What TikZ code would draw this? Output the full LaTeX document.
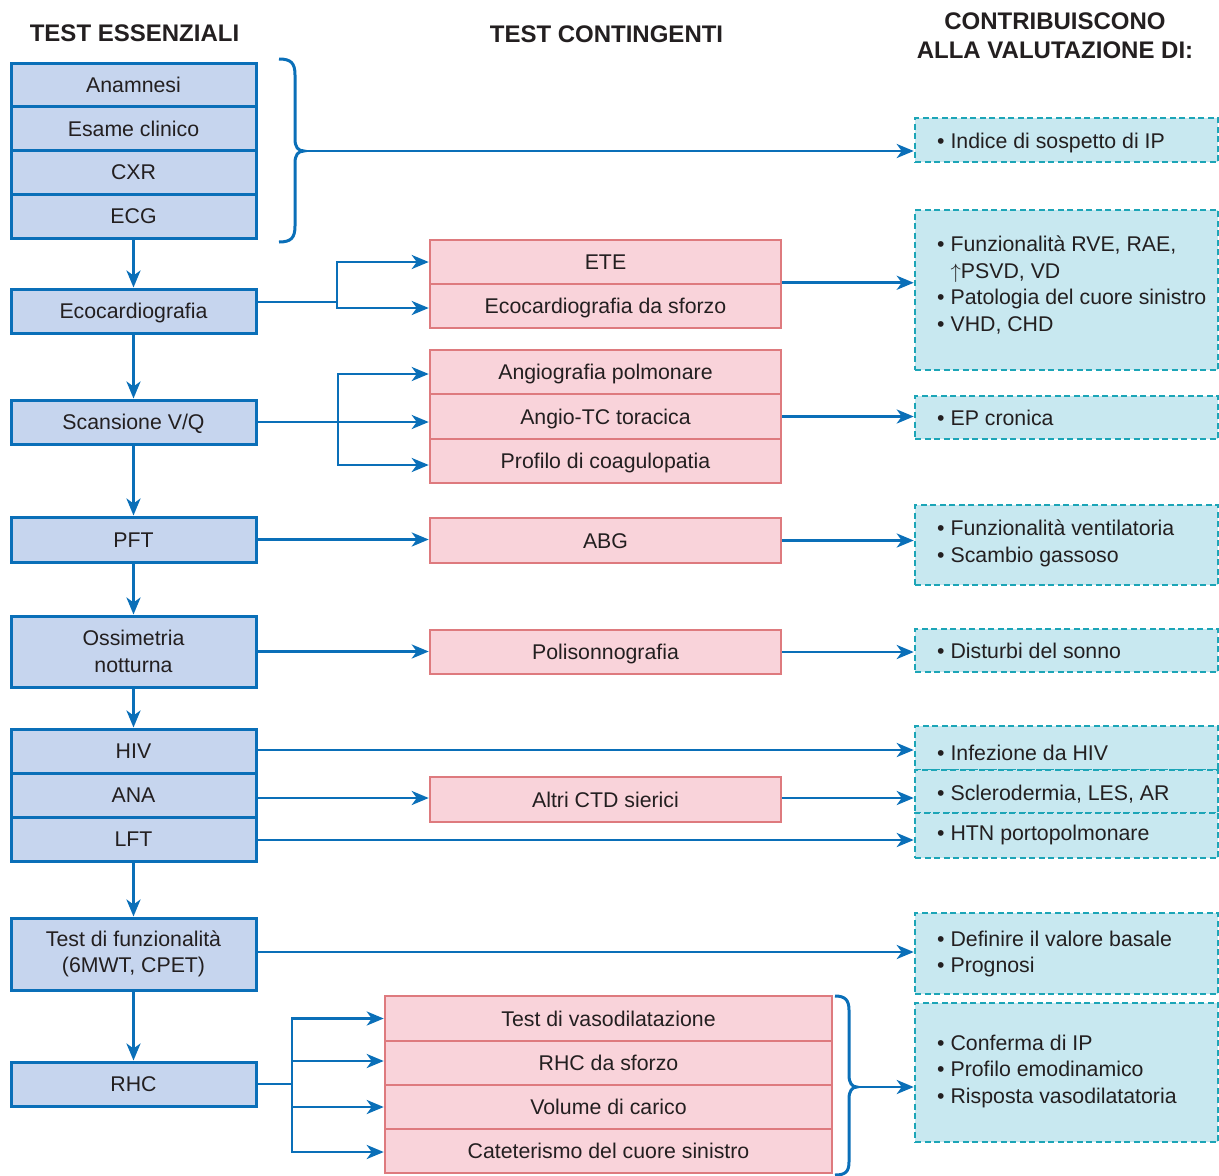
\documentclass[tikz,border=0pt]{standalone}
\usepackage{fontspec}
\setmainfont{Liberation Sans}
\usetikzlibrary{arrows.meta,calc}
\definecolor{bluedge}{HTML}{0A6FB8}
\definecolor{bluefill}{HTML}{C6D5EE}
\definecolor{pinkedge}{HTML}{DE7A7E}
\definecolor{pinkfill}{HTML}{F9D3DA}
\definecolor{tealedge}{HTML}{1CA5B7}
\definecolor{tealfill}{HTML}{C8E8F0}
\definecolor{txt}{HTML}{231F20}
\begin{document}
\begin{tikzpicture}[x=1pt,y=-1pt,
 every node/.style={text=txt, font=\fontsize{21.3}{26.5}\selectfont, inner sep=0pt},
 oneline/.style={text height=15pt, text depth=0pt},
 bluebox/.style={draw=bluedge, fill=bluefill, line width=3pt, minimum width=245pt, minimum height=44pt, align=center},
 pinkbox/.style={draw=pinkedge, fill=pinkfill, line width=2.5pt, minimum width=351pt, minimum height=44pt, align=center, oneline},
 pinkwide/.style={pinkbox, minimum width=447pt},
 tealbox/.style={draw=tealedge, fill=tealfill, line width=2.5pt, dash pattern=on 6pt off 3.5pt, minimum width=303pt},
 bullets/.style={anchor=west, align=left},
 hdr/.style={font=\fontsize{24}{29}\selectfont\bfseries, align=center},
 conn/.style={draw=bluedge, line width=2.8pt},
 arr/.style={conn, -{Stealth[length=17pt,width=14pt,inset=5pt]}},
 bracestyle/.style={draw=bluedge, line width=3pt},
]
\useasboundingbox (0,0) rectangle (1219,1176);

% headers
\node[hdr] (h1) at (134.5,33) {TEST ESSENZIALI};
\node[hdr] (h2) at (606.5,34) {TEST CONTINGENTI};
\node[hdr] (h3) at (1055,35.5) {CONTRIBUISCONO\\ALLA VALUTAZIONE DI:};

% essential tests (left column)
\node[bluebox, oneline] (anam) at (133.5,85) {Anamnesi};
\node[bluebox, oneline] (esame) at (133.5,128.5) {Esame clinico};
\node[bluebox, oneline] (cxr) at (133.5,172) {CXR};
\node[bluebox, oneline] (ecg) at (133.5,216) {ECG};
\node[bluebox, oneline] (eco) at (133.5,311) {Ecocardiografia};
\node[bluebox, oneline] (vq) at (133.5,422) {Scansione V/Q};
\node[bluebox, oneline, minimum height=45pt] (pft) at (133.5,539.5) {PFT};
\node[bluebox, minimum height=71pt] (oss) at (133.5,651.5) {Ossimetria\\notturna};
\node[bluebox, oneline] (hiv) at (133.5,751) {HIV};
\node[bluebox, oneline] (ana) at (133.5,795) {ANA};
\node[bluebox, oneline] (lft) at (133.5,839) {LFT};
\node[bluebox, minimum height=72pt] (tf) at (133.5,954) {Test di funzionalità\\(6MWT, CPET)};
\node[bluebox, oneline] (rhc) at (133.5,1084) {RHC};

% contingent tests (middle column)
\node[pinkbox] (ete) at (605.5,262) {ETE};
\node[pinkbox] (ecosf) at (605.5,306) {Ecocardiografia da sforzo};
\node[pinkbox] (angio) at (605.5,372) {Angiografia polmonare};
\node[pinkbox, minimum height=45pt] (angiotc) at (605.5,416.5) {Angio-TC toracica};
\node[pinkbox] (profilo) at (605.5,461) {Profilo di coagulopatia};
\node[pinkbox, minimum height=45pt] (abg) at (605.5,540.5) {ABG};
\node[pinkbox] (polis) at (605.5,652) {Polisonnografia};
\node[pinkbox, minimum height=45pt] (altri) at (605.5,799.5) {Altri CTD sierici};
\node[pinkwide, minimum height=45pt] (tv) at (608.5,1018.5) {Test di vasodilatazione};
\node[pinkwide] (rhcs) at (608.5,1063) {RHC da sforzo};
\node[pinkwide] (vol) at (608.5,1107) {Volume di carico};
\node[pinkwide] (cat) at (608.5,1151) {Cateterismo del cuore sinistro};

% assessment boxes (right column)
\node[tealbox, minimum height=44pt] (d1) at (1066.5,140) {};
\node[tealbox, minimum height=160pt] (d2) at (1066.5,290) {};
\node[tealbox, minimum height=43pt] (d3) at (1066.5,417.5) {};
\node[tealbox, minimum height=80pt] (d4) at (1066.5,545) {};
\node[tealbox, minimum height=43pt] (d5) at (1066.5,650.5) {};
\node[tealbox, minimum height=44pt] (d6) at (1066.5,748) {};
\node[tealbox, minimum height=43pt] (d7) at (1066.5,791.5) {};
\node[tealbox, minimum height=45pt] (d8) at (1066.5,835.5) {};
\node[tealbox, minimum height=81pt] (d9) at (1066.5,953.5) {};
\node[tealbox, minimum height=139pt] (d10) at (1066.5,1072.5) {};

\node[bullets, oneline] (t1) at (937,141) {• Indice di sospetto di IP};
\node[bullets] (t2) at (937,285) {• Funzionalità RVE, RAE,\\\phantom{• }$\uparrow$PSVD, VD\\• Patologia del cuore sinistro\\• VHD, CHD};
\node[bullets, oneline] (t3) at (937,418) {• EP cronica};
\node[bullets] (t4) at (937,543.5) {• Funzionalità ventilatoria\\• Scambio gassoso};
\node[bullets, oneline] (t5) at (937,651) {• Disturbi del sonno};
\node[bullets, oneline] (t6) at (937,753) {• Infezione da HIV};
\node[bullets, oneline] (t7) at (937,793) {• Sclerodermia, LES, AR};
\node[bullets, oneline] (t8) at (937,833) {• HTN portopolmonare};
\node[bullets] (t9) at (937,954) {• Definire il valore basale\\• Prognosi};
\node[bullets] (t10) at (937,1071) {• Conferma di IP\\• Profilo emodinamico\\• Risposta vasodilatatoria};

% braces
\draw[bracestyle] (279,59) .. controls (291,59) and (295,63) .. (295,75) -- (295,139)
  .. controls (295,147) and (298,151) .. (304,151)
  .. controls (298,151) and (295,155) .. (295,163) -- (295,226)
  .. controls (295,238) and (291,242) .. (279,242);
\coordinate (b1) at (304,151);
\draw[bracestyle] (835,996) .. controls (845,996) and (849,1000) .. (849,1010) -- (849,1075)
  .. controls (849,1083) and (852,1087) .. (857,1087)
  .. controls (852,1087) and (849,1091) .. (849,1099) -- (849,1162)
  .. controls (849,1172) and (845,1175) .. (835,1175);
\coordinate (b2) at (857,1087);

% connectors
\draw[arr] (b1) -- (b1 -| d1.west);
\draw[arr] (ecg) -- (eco);
\draw[arr] (eco) -- (vq);
\draw[arr] (vq) -- (pft);
\draw[arr] (pft) -- (oss);
\draw[arr] (oss) -- (hiv);
\draw[arr] (lft) -- (tf);
\draw[arr] (tf) -- (rhc);

\coordinate (j1) at (337,302);
\draw[conn] (eco.east |- j1) -- (j1);
\draw[arr] (j1) |- (ete.west);
\draw[arr] (j1) |- ([yshift=-2pt]ecosf.west);
\draw[arr] (ecosf.north east) -- (ecosf.north east -| d2.west);

\coordinate (j2) at (338,422);
\draw[conn] (vq.east) -- (j2);
\draw[arr] (j2) |- ([yshift=-2pt]angio.west);
\draw[arr] (j2) -- (j2 -| angiotc.west);
\draw[arr] (j2) |- ([yshift=-4pt]profilo.west);
\draw[arr] (angiotc.east) -- (angiotc.east -| d3.west);

\draw[arr] (pft.east) -- (pft.east -| abg.west);
\draw[arr] (abg.east) -- (abg.east -| d4.west);
\draw[arr] (oss.east) -- (oss.east -| polis.west);
\draw[arr] (polis.east) -- (polis.east -| d5.west);
\draw[arr] ([yshift=1pt]hiv.east) -- ([yshift=1pt]hiv.east -| d6.west);
\draw[arr] ([yshift=1.5pt]altri.west -| ana.east) -- ([yshift=1.5pt]altri.west);
\draw[arr] ([yshift=1.5pt]altri.east) -- ([yshift=1.5pt]altri.east -| d7.west);
\draw[arr] ([yshift=-1pt]lft.east) -- ([yshift=-1pt]lft.east -| d8.west);
\draw[arr] ([yshift=2pt]tf.east) -- ([yshift=2pt]tf.east -| d9.west);

\coordinate (j3) at (292,1084);
\draw[conn] (rhc.east) -- (j3);
\draw[arr] (j3) |- (tv.west);
\draw[arr] (j3) |- ([yshift=2pt]rhcs.west);
\draw[arr] (j3) |- (vol.west);
\draw[arr] (j3) |- ([yshift=-1pt]cat.west);
\draw[arr] (b2) -- (b2 -| d10.west);
\end{tikzpicture}
\end{document}
